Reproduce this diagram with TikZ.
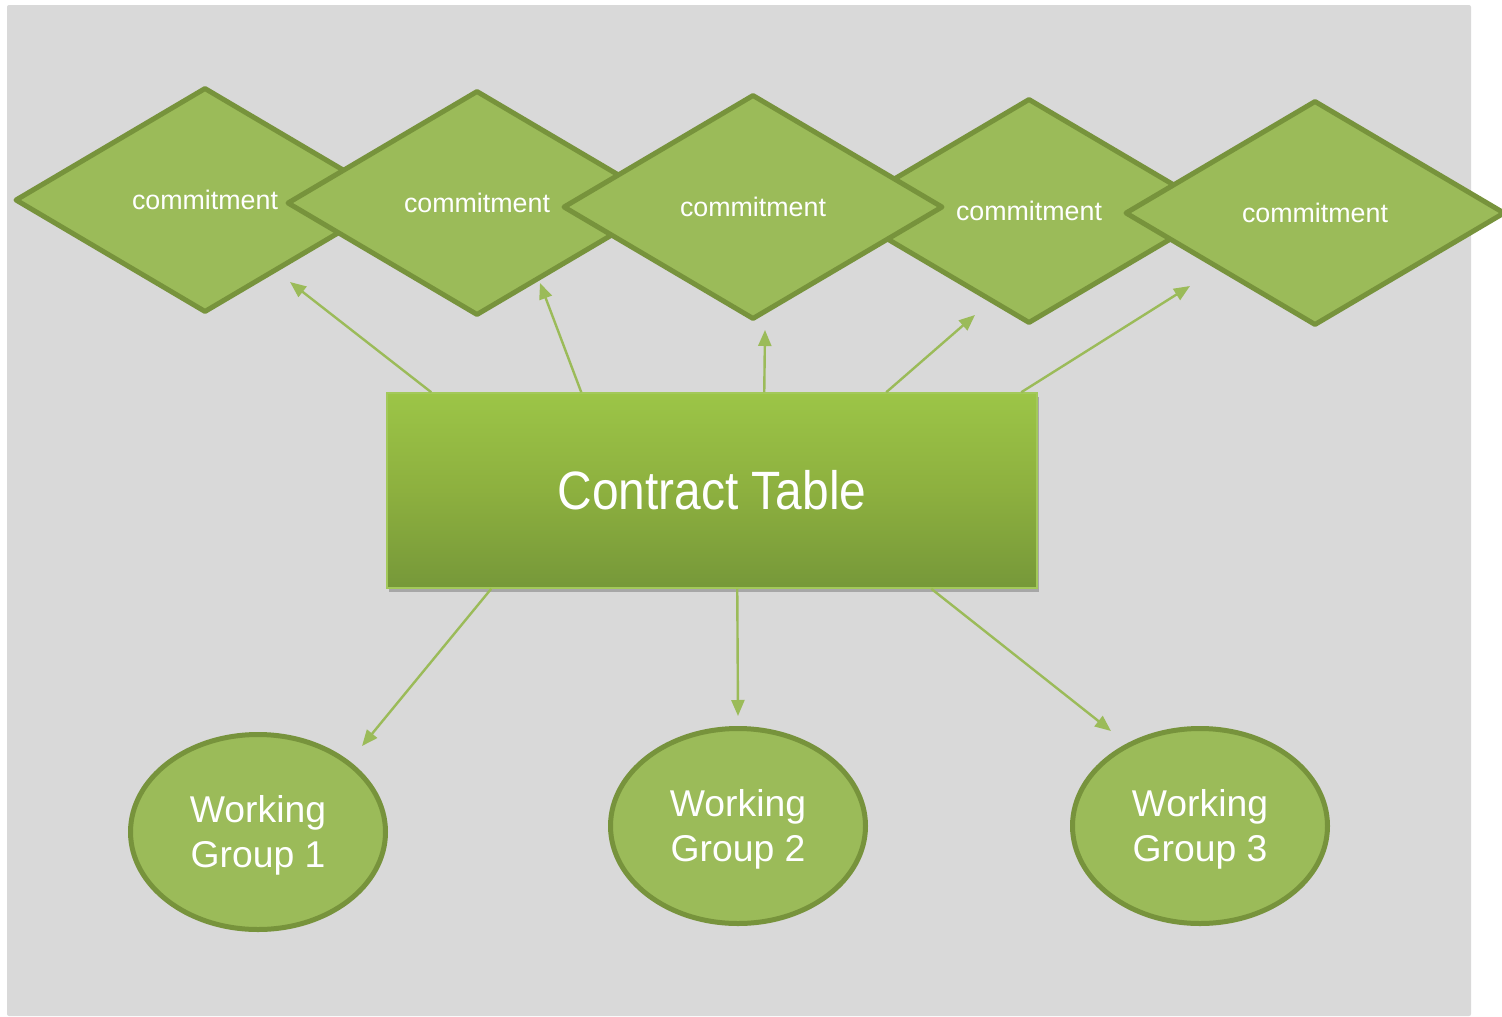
\documentclass[tikz,border=0pt]{standalone}
\usepackage{fontspec}
\setmainfont{Liberation Sans}
\usetikzlibrary{shapes.geometric,arrows.meta,calc,shadows}
\definecolor{bggrey}{HTML}{D9D9D9}
\definecolor{gfill}{HTML}{9BBB59}
\definecolor{gline}{HTML}{77933C}
\definecolor{gtop}{HTML}{9CC547}
\definecolor{gmid}{HTML}{8DB03F}
\definecolor{gbot}{HTML}{769839}
\definecolor{rborder}{HTML}{A3C95A}
\definecolor{arrowc}{HTML}{9BBB59}
\newcommand{\wgtext}[2]{\raisebox{0pt}[\dimexpr\height+8pt\relax]{\begin{tabular}{@{}c@{}}#1\\#2\end{tabular}}}
\begin{document}
\begin{tikzpicture}[x=1pt,y=-1pt,
  commit/.style={diamond, draw=gline, fill=gfill, line width=5pt, line join=round,
    minimum width=380pt, minimum height=225pt, inner sep=0pt, aspect=1.7,
    text=white, font=\fontsize{26.8}{32}\selectfont},
  wgroup/.style={ellipse, draw=gline, fill=gfill, line width=5pt,
    minimum width=255pt, minimum height=195pt, inner sep=0pt, align=center,
    text=white, font=\fontsize{37.3}{45}\selectfont},
  ctable/.style={rectangle, draw=rborder, line width=1.5pt,
    top color=gtop, bottom color=gbot, middle color=gmid,
    minimum width=650pt, minimum height=195pt, inner sep=0pt,
    text=white, font=\fontsize{54}{60}\selectfont,
    drop shadow={shadow xshift=2pt, shadow yshift=-4pt, opacity=0.35, fill=black!70}},
  conn/.style={draw=arrowc, line width=2.4pt, -{Triangle[length=16pt,width=13pt]}}
]
\useasboundingbox (0,0) rectangle (1502,1017);
\fill[white] (0,0) rectangle (1502,1017);
\fill[bggrey, rounded corners=2pt] (7,5) rectangle (1471,1016);

% diamonds
\node[commit] (d1) at (205,200) {commitment};
\node[commit] (d2) at (477,203) {commitment};
\node[commit] (d4) at (1029,211) {commitment};
\node[commit] (d3) at (753,207) {commitment};
\node[commit] (d5) at (1315,213) {commitment};

% contract table
\node[ctable] (ct) at (712,490.5) {\scalebox{0.887}[1]{Contract Table}};

% working groups
\node[wgroup] (w1) at (258,832) {\wgtext{Working}{Group 1}};
\node[wgroup] (w2) at (738,826) {\wgtext{Working}{Group 2}};
\node[wgroup] (w3) at (1200,826) {\wgtext{Working}{Group 3}};

% arrow end points
\coordinate (t1) at (290,282);
\coordinate (t2) at (540,283);
\coordinate (t3) at (765,330);
\coordinate (t4) at (975,315);
\coordinate (t5) at (1190,286);
\coordinate (b1) at (362,746);
\coordinate (b2) at (738,716);
\coordinate (b3) at (1111,731);

\draw[conn] ($(ct.north west)+(45,0)$) -- (t1);
\draw[conn] ($(ct.north west)+(195,0)$) -- (t2);
\draw[conn] ($(ct.north west)+(378,0)$) -- (t3);
\draw[conn] ($(ct.north west)+(500,0)$) -- (t4);
\draw[conn] ($(ct.north west)+(635,0)$) -- (t5);
\draw[conn] ($(ct.south west)+(105,0)$) -- (b1);
\draw[conn] ($(ct.south west)+(351,0)$) -- (b2);
\draw[conn] ($(ct.south west)+(545,0)$) -- (b3);
\end{tikzpicture}
\end{document}
